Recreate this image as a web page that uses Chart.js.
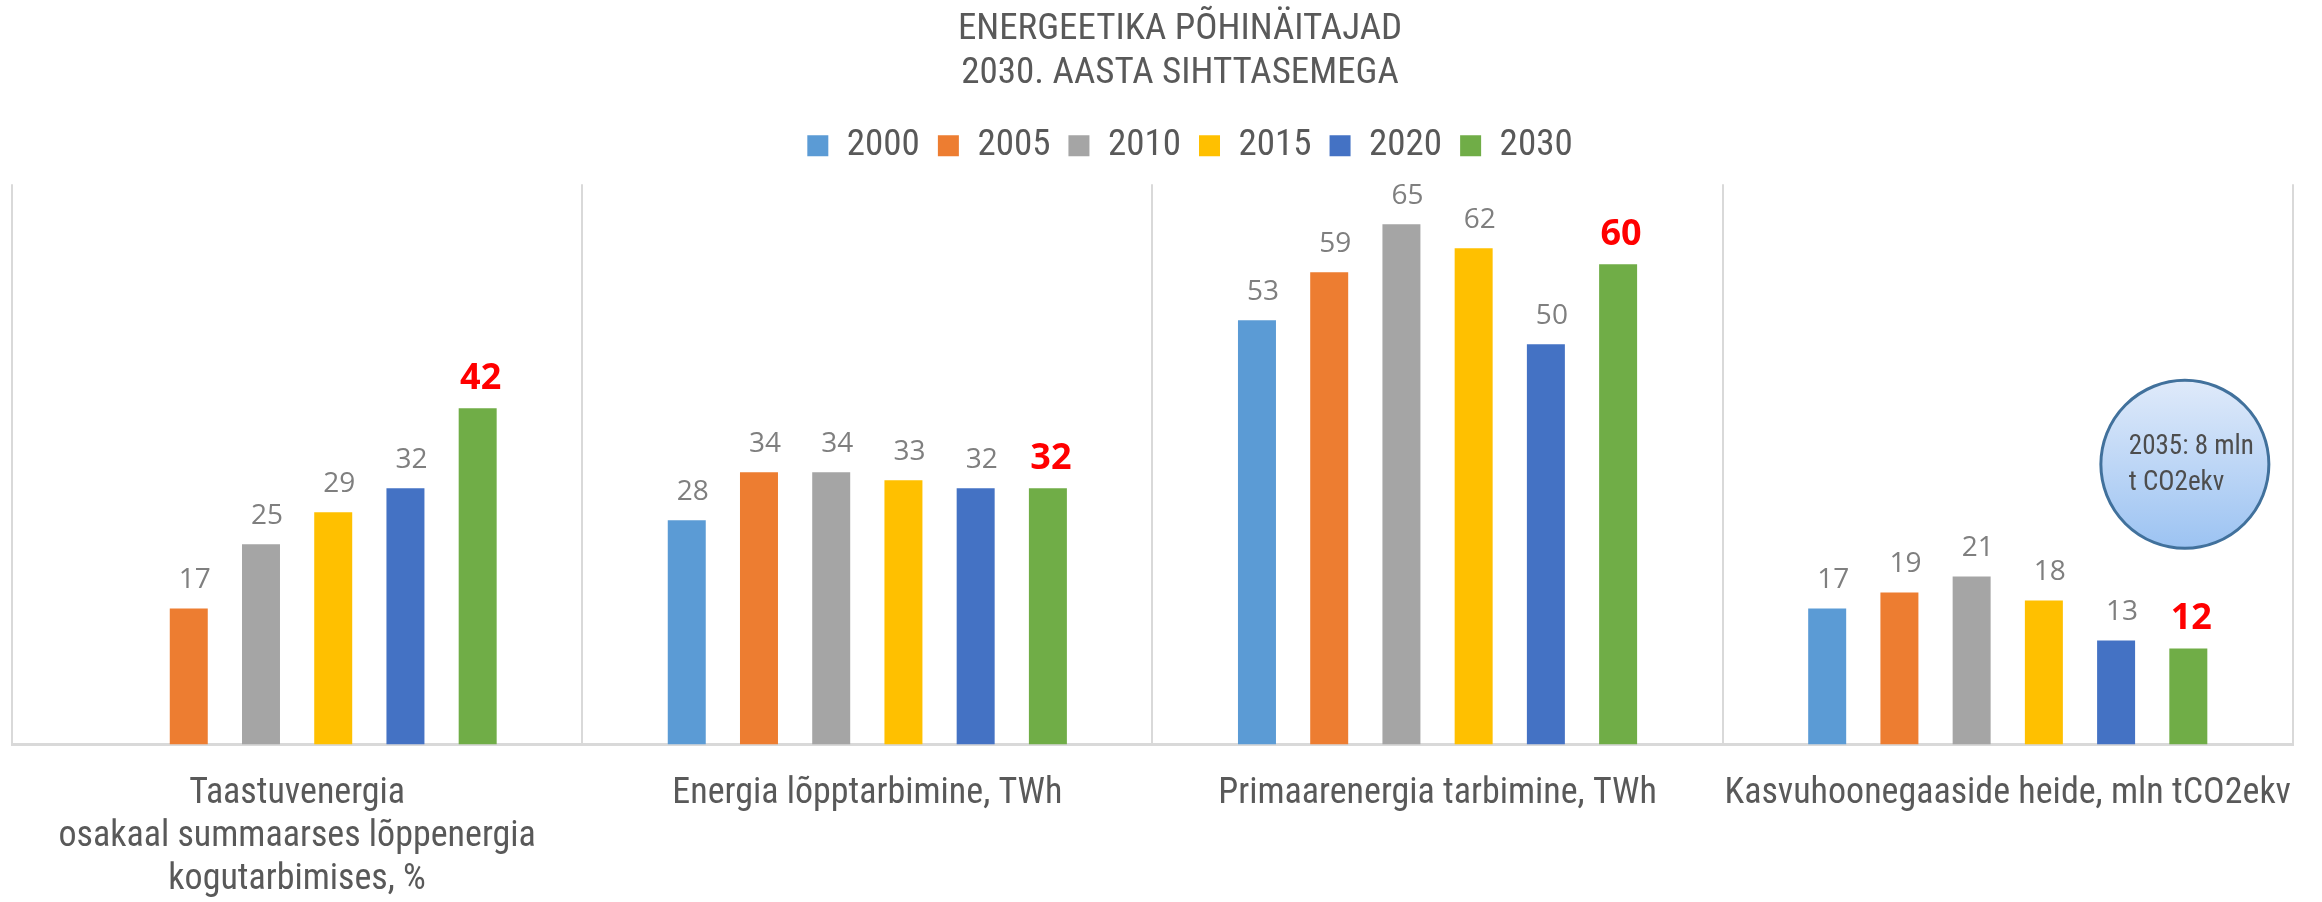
<!DOCTYPE html>
<html>
<head>
  <meta charset="utf-8">
  <title>Energeetika põhinäitajad</title>
  <script src="https://cdn.jsdelivr.net/npm/chart.js"></script>
  <style>
    html, body { margin: 0; padding: 0; background: #fff; }
    #wrap { width: 2322px; height: 902px; }
  </style>
</head>
<body>
  <div id="wrap"><canvas id="chart"></canvas></div>

  <script>
const categories = [
  'Taastuvenergia|osakaal summaarses lõppenergia|kogutarbimises, %',
  'Energia lõpptarbimine, TWh',
  'Primaarenergia tarbimine, TWh',
  'Kasvuhoonegaaside heide, mln tCO2ekv'
];
const years = ['2000', '2005', '2010', '2015', '2020', '2030'];
const values2000 = [null, 28, 53, 17];
const values2005 = [17, 34, 59, 19];
const values2010 = [25, 34, 65, 21];
const values2015 = [29, 33, 62, 18];
const values2020 = [32, 32, 50, 13];
const values2030 = [42, 32, 60, 12];
const colors = ['#5b9bd5', '#ed7d31', '#a5a5a5', '#ffc000', '#4472c4', '#70ad47'];
const titleLines = ['ENERGEETIKA PÕHINÄITAJAD', '2030. AASTA SIHTTASEMEGA'];
const noteLines = ['2035: 8 mln', 't CO2ekv'];

const narrow = "'Roboto Condensed', 'Liberation Sans Narrow', 'DejaVu Sans Condensed', Roboto, sans-serif";
const textGray = '#595959';

const allValues = [values2000, values2005, values2010, values2015, values2020, values2030];

// value labels above bars, target year in red bold
const barLabels = {
  id: 'barLabels',
  afterDatasetsDraw(chart) {
    const ctx = chart.ctx;
    ctx.save();
    ctx.textAlign = 'center';
    ctx.textBaseline = 'alphabetic';
    chart.data.datasets.forEach((ds, i) => {
      const target = i === chart.data.datasets.length - 1;
      chart.getDatasetMeta(i).data.forEach((bar, j) => {
        const v = ds.data[j];
        if (v === null) return;
        if (target) {
          ctx.font = "bold 36px 'Open Sans', sans-serif";
          ctx.fillStyle = '#ff0000';
          ctx.fillText(v, bar.x + 3, bar.y - 19);
        } else {
          ctx.font = "28px 'Open Sans', sans-serif";
          ctx.fillStyle = '#7f7f7f';
          ctx.fillText(v, bar.x + 6, bar.y - 20);
        }
      });
    });
    ctx.restore();
  }
};

// extra room under the legend
const legendGap = {
  id: 'legendGap',
  beforeInit(chart) {
    const fit = chart.legend.fit;
    chart.legend.fit = function () {
      fit.bind(chart.legend)();
      this.height += 10;
    };
  }
};

// title and legend sit a little right of centre in the original
const headerShift = {
  id: 'headerShift',
  afterLayout(chart) {
    chart.titleBlock.left += 25;
    chart.titleBlock.right += 25;
    chart.legend.left += 35;
    chart.legend.right += 35;
  }
};

// the "2035" note bubble in the last group
const noteBubble = {
  id: 'noteBubble',
  afterDraw(chart) {
    const ctx = chart.ctx;
    const cx = chart.chartArea.right - 108;
    const cy = chart.scales.y.getPixelForValue(35);
    const r = 84;
    ctx.save();
    const g = ctx.createLinearGradient(0, cy - r, 0, cy + r);
    g.addColorStop(0, '#dfeafa');
    g.addColorStop(1, '#9cc3f2');
    ctx.beginPath();
    ctx.arc(cx, cy, r, 0, Math.PI * 2);
    ctx.fillStyle = g;
    ctx.fill();
    ctx.lineWidth = 3;
    ctx.strokeStyle = '#41719c';
    ctx.stroke();
    ctx.font = '27px ' + narrow;
    ctx.fillStyle = '#4d4d4d';
    ctx.textAlign = 'left';
    ctx.textBaseline = 'middle';
    ctx.fillText(noteLines[0], cx - 56, cy - 17);
    ctx.fillText(noteLines[1], cx - 56, cy + 19);
    ctx.restore();
  }
};

const ctx = document.getElementById('chart').getContext('2d');

new Chart(ctx, {
  type: 'bar',
  data: {
    labels: categories.map(c => c.split('|')),
    datasets: years.map((y, i) => ({
      label: y,
      data: allValues[i],
      backgroundColor: colors[i],
      borderWidth: 0,
      categoryPercentage: 0.76,
      barPercentage: 0.526
    }))
  },
  options: {
    responsive: true,
    maintainAspectRatio: false,
    animation: false,
    layout: { padding: { left: 12, right: 24, top: 0, bottom: -28 } },
    plugins: {
      title: {
        display: true,
        text: titleLines,
        color: textGray,
        font: { family: narrow, size: 37, weight: 'normal', lineHeight: 1.18 },
        padding: { top: 8, bottom: 14 }
      },
      legend: {
        position: 'top',
        labels: {
          boxWidth: 21,
          boxHeight: 21,
          color: textGray,
          font: { family: narrow, size: 37 },
          padding: 18
        }
      },
      tooltip: { enabled: false }
    },
    scales: {
      x: {
        offset: true,
        grid: { display: true, offset: true, color: '#d9d9d9', lineWidth: 2, drawTicks: false },
        border: { display: true, color: '#d9d9d9', width: 3 },
        ticks: {
          color: textGray,
          font: { family: narrow, size: 36, lineHeight: 1.2 },
          padding: 28,
          maxRotation: 0,
          autoSkip: false
        }
      },
      y: {
        display: false,
        min: 0,
        max: 70
      }
    }
  },
  plugins: [barLabels, legendGap, headerShift, noteBubble]
});
  </script>
</body>
</html>
